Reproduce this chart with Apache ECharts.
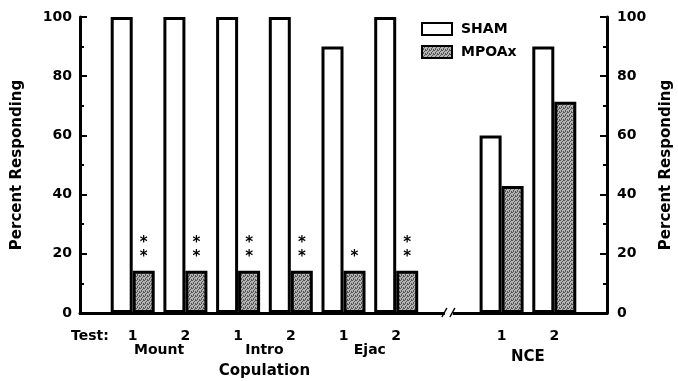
<!DOCTYPE html>
<html>
<head>
<meta charset="utf-8">
<script src="https://cdn.jsdelivr.net/npm/echarts@6/dist/echarts.min.js"></script>
<style>
  html, body { margin: 0; padding: 0; background: #fff; }
  #main { width: 678px; height: 381px; }
</style>
</head>
<body>
<div id="main"></div>
<script>
// 数据
const testLabels = ['Test:', '1', '2', '1', '2', '1', '2', '', '1', '2', '']
const groupLabels = ['', 'Mount', '', 'Intro', '', 'Ejac', '', '', 'NCE', '']
const shamValues = [null, 100, 100, 100, 100, 90, 100, null, 60, 90, null]
const mpoaValues = [null, 14.3, 14.3, 14.3, 14.3, 14.3, 14.3, null, 42.9, 71.4, null]
const stars = ['', '**', '**', '**', '**', '*', '**', '', '', '', '']
const yTicks = [0, 20, 40, 60, 80, 100]

const FONT = 'DejaVu Sans'

// 灰色点状纹理
function makePattern() {
  const c = document.createElement('canvas')
  c.width = 4
  c.height = 4
  const ctx = c.getContext('2d')
  ctx.fillStyle = '#b4b4b4'
  ctx.fillRect(0, 0, 4, 4)
  ctx.fillStyle = '#555'
  ctx.fillRect(0, 0, 1, 1)
  ctx.fillRect(2, 1, 1, 1)
  ctx.fillRect(1, 2, 1, 1)
  ctx.fillRect(3, 3, 1, 1)
  ctx.fillRect(3, 0, 1, 1)
  ctx.fillRect(1, 3, 1, 1)
  return { image: c, repeat: 'repeat' }
}

const chart = echarts.init(document.getElementById('main'))

const yAxisBase = {
  type: 'value',
  min: 0,
  max: 100,
  interval: 20,
  name: 'Percent Responding',
  nameLocation: 'middle',
  nameRotate: 90,
  nameTextStyle: { fontFamily: FONT, fontWeight: 'bold', fontSize: 15, color: '#000' },
  axisLine: { show: true, lineStyle: { color: '#000', width: 3 } },
  axisTick: { show: true, inside: true, length: 7, lineStyle: { color: '#000', width: 2 } },
  minorTick: { show: true, splitNumber: 2, length: 4, lineStyle: { color: '#000', width: 2 } },
  splitLine: { show: false },
  axisLabel: {
    fontFamily: FONT, fontWeight: 'bold', fontSize: 14, color: '#000',
    formatter: v => yTicks.includes(v) ? String(v) : ''
  }
}

chart.setOption({
  animation: false,
  grid: { left: 80, right: 71, top: 17, bottom: 68, outerBoundsMode: 'none' },
  legend: {
    orient: 'vertical',
    left: 416,
    top: 17,
    icon: 'rect',
    itemWidth: 30,
    itemHeight: 12,
    itemGap: 9,
    textStyle: { fontFamily: FONT, fontWeight: 'bold', fontSize: 14, color: '#000', padding: [0, 0, 0, 4] },
    data: ['SHAM', 'MPOAx']
  },
  xAxis: [{
    type: 'category',
    data: testLabels.map((t, i) => i === 0 ? { value: t, textStyle: { padding: [0, 0, 0, 20] } } : t),
    boundaryGap: false,
    axisLine: { show: true, lineStyle: { color: '#000', width: 3 } },
    axisTick: { show: false },
    axisLabel: {
      interval: 0, margin: 16,
      fontFamily: FONT, fontWeight: 'bold', fontSize: 14, color: '#000'
    }
  }, {
    type: 'category',
    data: groupLabels,
    position: 'bottom',
    boundaryGap: true,
    axisLine: { show: false },
    axisTick: { show: false },
    axisLabel: {
      interval: 0, margin: 29,
      fontFamily: FONT, fontWeight: 'bold', fontSize: 14, color: '#000',
      formatter: v => {
        if (v === 'Intro') return '{g|Intro}\n{c|Copulation}'
        if (v === 'NCE') return '{n|NCE}'
        return '{g|' + v + '}'
      },
      rich: {
        g: { fontFamily: FONT, fontWeight: 'bold', fontSize: 14, color: '#000', lineHeight: 16 },
        c: { fontFamily: FONT, fontWeight: 'bold', fontSize: 15, color: '#000', lineHeight: 18, padding: [8, 0, 0, 0] },
        n: { fontFamily: FONT, fontWeight: 'bold', fontSize: 15, color: '#000', lineHeight: 18, padding: [12, 0, 0, 0] }
      }
    }
  }],
  yAxis: [
    Object.assign({}, yAxisBase, { position: 'left', nameGap: 55 }),
    Object.assign({}, yAxisBase, { position: 'right', nameGap: 52, axisLabel: Object.assign({}, yAxisBase.axisLabel, { margin: 10 }) })
  ],
  series: [{
    name: 'SHAM',
    type: 'bar',
    xAxisIndex: 0,
    yAxisIndex: 0,
    barWidth: 22,
    barGap: '0%',
    data: shamValues,
    itemStyle: { color: '#fff', borderColor: '#000', borderWidth: 3 }
  }, {
    name: 'MPOAx',
    type: 'bar',
    xAxisIndex: 0,
    yAxisIndex: 0,
    barWidth: 22,
    barGap: '0%',
    data: mpoaValues.map((v, i) => ({ value: v, label: { show: !!stars[i], formatter: stars[i].split('').join('\n') } })),
    itemStyle: { color: makePattern(), borderColor: '#000', borderWidth: 3 },
    label: {
      position: 'top',
      distance: 7,
      fontFamily: FONT,
      fontWeight: 'bold',
      fontSize: 15,
      lineHeight: 14,
      color: '#000'
    }
  }]
})

// 坐标轴断裂标记
const bx = chart.convertToPixel({ xAxisIndex: 0 }, 7)
const by = chart.convertToPixel({ yAxisIndex: 0 }, 0)
chart.setOption({
  graphic: [
    { type: 'rect', shape: { x: bx - 4, y: by - 3, width: 8, height: 6 }, style: { fill: '#fff' }, z: 100 },
    { type: 'line', shape: { x1: bx - 7, y1: by + 4, x2: bx - 2, y2: by - 5 }, style: { stroke: '#000', lineWidth: 1.5 }, z: 101 },
    { type: 'line', shape: { x1: bx + 1, y1: by + 4, x2: bx + 6, y2: by - 5 }, style: { stroke: '#000', lineWidth: 1.5 }, z: 101 }
  ]
})
</script>
</body>
</html>
